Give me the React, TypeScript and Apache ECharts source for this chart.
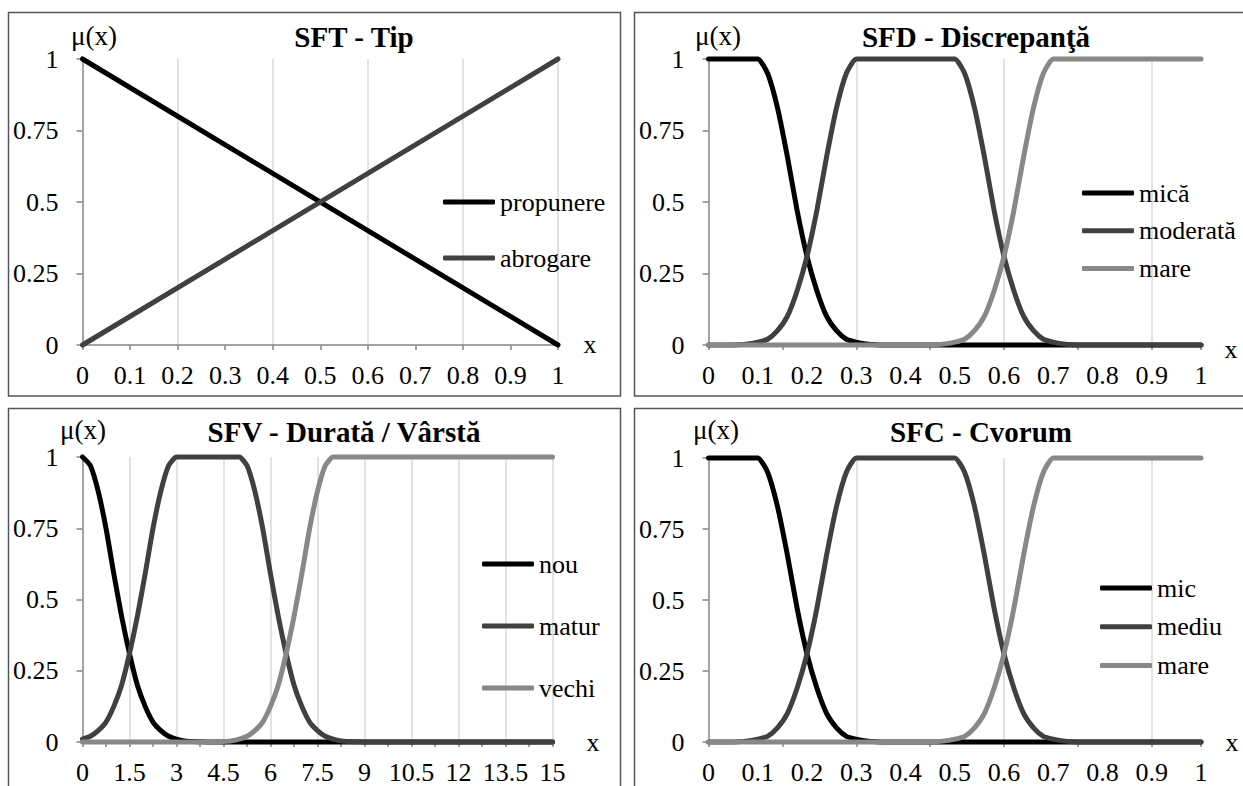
import React, { useEffect, useRef } from "react";
import * as echarts from "echarts";

// ---------- data ----------
const sftX = [0, 1];
const sftPropunere = [1, 0];
const sftAbrogare = [0, 1];

// x from 0 to 1 in steps of 0.02 (51 points)
const sfdX = [
  0, 0.02, 0.04, 0.06, 0.08, 0.1, 0.12, 0.14, 0.16, 0.18, 0.2, 0.22, 0.24, 0.26, 0.28, 0.3, 0.32,
  0.34, 0.36, 0.38, 0.4, 0.42, 0.44, 0.46, 0.48, 0.5, 0.52, 0.54, 0.56, 0.58, 0.6, 0.62, 0.64,
  0.66, 0.68, 0.7, 0.72, 0.74, 0.76, 0.78, 0.8, 0.82, 0.84, 0.86, 0.88, 0.9, 0.92, 0.94, 0.96,
  0.98, 1,
];
const sfdMica = [
  1, 1, 1, 1, 1, 1, 0.95, 0.83, 0.66, 0.47, 0.31, 0.19, 0.1, 0.05, 0.02, 0.01, 0.004, 0.001,
  0, 0, 0, 0, 0, 0, 0, 0, 0, 0, 0, 0, 0, 0, 0, 0, 0, 0, 0, 0, 0, 0, 0, 0, 0, 0, 0, 0, 0, 0, 0, 0, 0,
];
const sfdModerata = [
  0, 0, 0, 0.001, 0.004, 0.01, 0.02, 0.05, 0.1, 0.19, 0.31, 0.47, 0.66, 0.83, 0.95, 1, 1, 1, 1,
  1, 1, 1, 1, 1, 1, 1, 0.95, 0.83, 0.66, 0.47, 0.31, 0.19, 0.1, 0.05, 0.02, 0.01, 0.004, 0.001,
  0, 0, 0, 0, 0, 0, 0, 0, 0, 0, 0, 0, 0,
];
const sfdMare = [
  0, 0, 0, 0, 0, 0, 0, 0, 0, 0, 0, 0, 0, 0, 0, 0, 0, 0, 0, 0, 0, 0, 0, 0.001, 0.004, 0.01, 0.02,
  0.05, 0.1, 0.19, 0.31, 0.47, 0.66, 0.83, 0.95, 1, 1, 1, 1, 1, 1, 1, 1, 1, 1, 1, 1, 1, 1, 1, 1,
];

// x from 0 to 15 in steps of 0.25 (61 points)
const sfvX = [
  0, 0.25, 0.5, 0.75, 1, 1.25, 1.5, 1.75, 2, 2.25, 2.5, 2.75, 3, 3.25, 3.5, 3.75, 4, 4.25, 4.5,
  4.75, 5, 5.25, 5.5, 5.75, 6, 6.25, 6.5, 6.75, 7, 7.25, 7.5, 7.75, 8, 8.25, 8.5, 8.75, 9, 9.25,
  9.5, 9.75, 10, 10.25, 10.5, 10.75, 11, 11.25, 11.5, 11.75, 12, 12.25, 12.5, 12.75, 13, 13.25,
  13.5, 13.75, 14, 14.25, 14.5, 14.75, 15,
];
const sfvNou = [
  1, 0.97, 0.88, 0.75, 0.59, 0.44, 0.31, 0.2, 0.125, 0.07, 0.04, 0.02, 0.01, 0.004, 0.002, 0.001,
  0, 0, 0, 0, 0, 0, 0, 0, 0, 0, 0, 0, 0, 0, 0, 0, 0, 0, 0, 0, 0, 0, 0, 0, 0, 0, 0, 0, 0, 0, 0, 0,
  0, 0, 0, 0, 0, 0, 0, 0, 0, 0, 0, 0, 0,
];
const sfvMatur = [
  0.01, 0.02, 0.04, 0.07, 0.125, 0.2, 0.31, 0.44, 0.59, 0.75, 0.88, 0.97, 1, 1, 1, 1, 1, 1, 1, 1,
  1, 0.97, 0.88, 0.75, 0.59, 0.44, 0.31, 0.2, 0.125, 0.07, 0.04, 0.02, 0.01, 0.004, 0.002, 0.001,
  0, 0, 0, 0, 0, 0, 0, 0, 0, 0, 0, 0, 0, 0, 0, 0, 0, 0, 0, 0, 0, 0, 0, 0, 0,
];
const sfvVechi = [
  0, 0, 0, 0, 0, 0, 0, 0, 0, 0, 0, 0, 0, 0, 0, 0, 0, 0.001, 0.002, 0.004, 0.01, 0.02, 0.04, 0.07,
  0.125, 0.2, 0.31, 0.44, 0.59, 0.75, 0.88, 0.97, 1, 1, 1, 1, 1, 1, 1, 1, 1, 1, 1, 1, 1, 1, 1, 1,
  1, 1, 1, 1, 1, 1, 1, 1, 1, 1, 1, 1, 1,
];

// SFC - same shape as SFD
const sfcX = sfdX;
const sfcMic = sfdMica;
const sfcMediu = sfdModerata;
const sfcMare = sfdMare;

const titles = ["SFT - Tip", "SFD - Discrepanţă", "SFV - Durată / Vârstă", "SFC - Cvorum"];

// ---------- styling ----------
const FONT = "Liberation Serif";
const AXIS_GRAY = "#868686";
const GRID_GRAY = "#d9d9d9";
const C_BLACK = "#000000";
const C_DARK = "#404040";
const C_LIGHT = "#888888";
const LABEL_SIZE = 26;

const pairs = (xs: number[], ys: number[]) => xs.map((x, i) => [x, ys[i]]);

export default function App() {
  const ref = useRef<HTMLDivElement>(null);

  useEffect(() => {
    document.body.style.margin = "0";
    if (!ref.current) return;
    const chart = echarts.init(ref.current, undefined, { renderer: "svg" });

    const grids = [
      { left: 82.5, top: 59, width: 475.5, height: 286 },
      { left: 708.5, top: 59, width: 492.5, height: 286 },
      { left: 82.5, top: 457, width: 470, height: 285 },
      { left: 708.5, top: 458, width: 492.5, height: 284 },
    ];
    const xMax = [1, 1, 15, 1];
    const labelStep = [0.1, 0.1, 1.5, 0.1];
    const gridStep = [0.2, 0.3, 1.5, 0.3];
    const showMax = [true, false, true, false];

    const xAxis: any[] = [];
    const yAxis: any[] = [];
    grids.forEach((_, i) => {
      xAxis.push({
        type: "value",
        gridIndex: i,
        min: 0,
        max: xMax[i],
        interval: labelStep[i],
        position: "bottom",
        axisLine: { show: true, onZero: false, lineStyle: { color: AXIS_GRAY, width: 1.5 } },
        axisTick: { show: false },
        splitLine: { show: false },
        axisLabel: { fontSize: LABEL_SIZE, fontFamily: FONT, color: "#000", margin: 17 },
      });
      xAxis.push({
        type: "value",
        gridIndex: i,
        min: 0,
        max: xMax[i],
        interval: gridStep[i],
        position: "bottom",
        axisLine: { show: false, onZero: false },
        axisLabel: { show: false },
        axisTick: { show: true, length: 5, lineStyle: { color: AXIS_GRAY, width: 1.5 } },
        minorTick: { show: true, splitNumber: 2, length: 5, lineStyle: { color: AXIS_GRAY, width: 1.5 } },
        splitLine: {
          show: true,
          showMinLine: false,
          showMaxLine: showMax[i],
          lineStyle: { color: GRID_GRAY, width: 1.5 },
        },
      });
      yAxis.push({
        type: "value",
        gridIndex: i,
        min: 0,
        max: 1,
        interval: 0.25,
        axisLine: { show: true, lineStyle: { color: AXIS_GRAY, width: 1.5 } },
        axisTick: { show: true, length: 6, lineStyle: { color: AXIS_GRAY, width: 1.5 } },
        splitLine: { show: false },
        axisLabel: { fontSize: LABEL_SIZE, fontFamily: FONT, color: "#000", margin: 24 },
      });
    });

    const mk = (name: string, gi: number, data: number[][], color: string) => ({
      type: "line",
      name,
      xAxisIndex: gi * 2,
      yAxisIndex: gi,
      data,
      showSymbol: false,
      symbol: "none",
      clip: false,
      smooth: 0.2,
      lineStyle: { color, width: 5, cap: "round", join: "round" },
      itemStyle: { color },
    });

    const series = [
      mk("propunere", 0, pairs(sftX, sftPropunere), C_BLACK),
      mk("abrogare", 0, pairs(sftX, sftAbrogare), C_DARK),
      mk("mică", 1, pairs(sfdX, sfdMica), C_BLACK),
      mk("moderată", 1, pairs(sfdX, sfdModerata), C_DARK),
      mk("mare", 1, pairs(sfdX, sfdMare), C_LIGHT),
      mk("nou", 2, pairs(sfvX, sfvNou), C_BLACK),
      mk("matur", 2, pairs(sfvX, sfvMatur), C_DARK),
      mk("vechi", 2, pairs(sfvX, sfvVechi), C_LIGHT),
      mk("mic", 3, pairs(sfcX, sfcMic), C_BLACK),
      mk("mediu", 3, pairs(sfcX, sfcMediu), C_DARK),
      mk("mare", 3, pairs(sfcX, sfcMare), C_LIGHT),
    ];

    const legendBase = {
      orient: "vertical",
      itemWidth: 52,
      itemHeight: 5,
      icon: "roundRect",
      selectedMode: false,
      padding: 0,
      textStyle: { fontSize: LABEL_SIZE, fontFamily: FONT, color: "#000", lineHeight: 24 },
    };
    const legend = [
      { ...legendBase, data: ["propunere", "abrogare"], left: 443, top: 189, itemGap: 30 },
      { ...legendBase, data: ["mică", "moderată", "mare"], left: 1082, top: 180, itemGap: 11.7 },
      { ...legendBase, data: ["nou", "matur", "vechi"], left: 482, top: 551, itemGap: 36 },
      { ...legendBase, data: ["mic", "mediu", "mare"], left: 1100, top: 575, itemGap: 12.7 },
    ];

    const txt = (text: string, x: number, y: number, size: number, bold = false) => ({
      type: "text",
      x,
      y,
      silent: true,
      style: {
        text,
        fill: "#000",
        fontSize: size,
        fontWeight: bold ? "bold" : "normal",
        fontFamily: FONT,
        align: "center",
        verticalAlign: "middle",
        textAlign: "center",
        textVerticalAlign: "middle",
      },
    });
    const box = (x: number, y: number, w: number, h: number) => ({
      type: "rect",
      silent: true,
      shape: { x, y, width: w, height: h },
      style: { fill: "none", stroke: "#555555", lineWidth: 1.5 },
    });

    const graphic = [
      box(8.5, 12.5, 612, 383.5),
      box(634.5, 12.5, 640, 383.5),
      box(8.5, 408.5, 612, 400),
      box(634.5, 408.5, 640, 400),
      txt(titles[0], 354, 37, 29, true),
      txt(titles[1], 976, 37, 29, true),
      txt(titles[2], 344, 432, 29, true),
      txt(titles[3], 981, 432, 29, true),
      txt("μ(x)", 94, 36, 27),
      txt("μ(x)", 718, 36, 27),
      txt("μ(x)", 83, 430, 27),
      txt("μ(x)", 716, 430, 27),
      txt("x", 590, 344, 26),
      txt("x", 1231, 349, 26),
      txt("x", 593, 742, 26),
      txt("x", 1232, 742, 26),
    ];

    chart.setOption({
      animation: false,
      backgroundColor: "#ffffff",
      textStyle: { fontFamily: FONT },
      grid: grids,
      xAxis,
      yAxis,
      legend,
      series,
      graphic,
    });

    return () => chart.dispose();
  }, []);

  return <div ref={ref} style={{ width: 1243, height: 786 }} />;
}
